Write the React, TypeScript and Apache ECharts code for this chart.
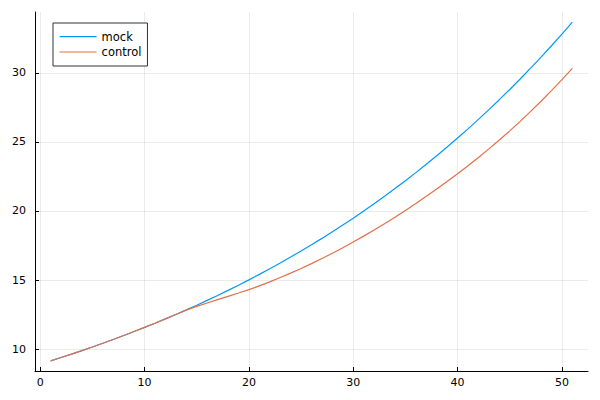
import React, { useEffect, useRef } from "react";
import * as echarts from "echarts";

const xValues = [1, 2, 3, 4, 5, 6, 7, 8, 9, 10, 11, 12, 13, 14, 15, 16, 17, 18, 19, 20, 21, 22, 23, 24, 25, 26, 27, 28, 29, 30, 31, 32, 33, 34, 35, 36, 37, 38, 39, 40, 41, 42, 43, 44, 45, 46, 47, 48, 49, 50, 51];

const mockValues = [9.150, 9.392, 9.640, 9.894, 10.155, 10.423, 10.699, 10.981, 11.271, 11.569, 11.874, 12.188, 12.509, 12.840, 13.179, 13.527, 13.884, 14.250, 14.627, 15.013, 15.409, 15.816, 16.234, 16.662, 17.102, 17.554, 18.017, 18.493, 18.981, 19.482, 19.997, 20.525, 21.066, 21.623, 22.194, 22.779, 23.381, 23.998, 24.632, 25.282, 25.950, 26.635, 27.338, 28.060, 28.801, 29.561, 30.342, 31.143, 31.965, 32.809, 33.675];

const controlValues = [9.150, 9.392, 9.640, 9.894, 10.155, 10.423, 10.699, 10.981, 11.271, 11.569, 11.874, 12.188, 12.509, 12.82, 13.09, 13.34, 13.58, 13.82, 14.06, 14.31, 14.58, 14.87, 15.18, 15.50, 15.84, 16.19, 16.56, 16.94, 17.34, 17.75, 18.18, 18.62, 19.08, 19.55, 20.04, 20.54, 21.06, 21.59, 22.14, 22.70, 23.28, 23.88, 24.50, 25.14, 25.80, 26.49, 27.21, 27.95, 28.72, 29.51, 30.33];

const xTicks = [0, 10, 20, 30, 40, 50];
const yTicks = [10, 15, 20, 25, 30];
const seriesNames = ["mock", "control"];
const seriesColors = ["#009AFA", "#E36F47"];

const FONT = "DejaVu Sans";

export default function App() {
  const ref = useRef<HTMLDivElement>(null);
  useEffect(() => {
    if (!ref.current) return;
    const chart = echarts.init(ref.current, null, { renderer: "svg" });
    const gridColor = "rgba(0,0,0,0.08)";
    chart.setOption({
      animation: false,
      backgroundColor: "#ffffff",
      grid: { left: 35, right: 12, top: 12, bottom: 29, outerBoundsMode: "none", containLabel: false },
      legend: {
        left: 53,
        top: 23,
        orient: "vertical",
        itemWidth: 37,
        itemHeight: 10,
        itemGap: 3.3,
        padding: [7.7, 6, 8, 6],
        borderColor: "#333",
        borderWidth: 1,
        borderRadius: 0,
        backgroundColor: "#ffffff",
        itemStyle: { opacity: 0, borderWidth: 0 },
        lineStyle: { width: 1.2 },
        textStyle: { fontFamily: FONT, fontSize: 11.5, color: "#000" },
        data: seriesNames,
      },
      xAxis: {
        type: "value",
        min: -0.5,
        max: 52.5,
        axisLine: { show: true, onZero: false, lineStyle: { color: "#000", width: 1 } },
        axisTick: { show: true, inside: true, length: 4, customValues: xTicks, lineStyle: { color: "#000" } },
        axisLabel: { customValues: xTicks, margin: 6, fontFamily: FONT, fontSize: 11, color: "#000" },
        splitLine: { show: true, lineStyle: { color: gridColor, width: 1 } },
      },
      yAxis: {
        type: "value",
        min: 8.414,
        max: 34.41,
        axisLine: { show: true, onZero: false, lineStyle: { color: "#000", width: 1 } },
        axisTick: { show: true, inside: true, length: 4, customValues: yTicks, lineStyle: { color: "#000" } },
        axisLabel: { customValues: yTicks, margin: 9, fontFamily: FONT, fontSize: 11, color: "#000" },
        splitLine: { show: true, lineStyle: { color: gridColor, width: 1 } },
      },
      series: [
        {
          name: seriesNames[0],
          type: "line",
          symbol: "none",
          data: xValues.map((x, i) => [x, mockValues[i]]),
          lineStyle: { color: seriesColors[0], width: 1.2 },
          itemStyle: { color: seriesColors[0] },
        },
        {
          name: seriesNames[1],
          type: "line",
          symbol: "none",
          data: xValues.map((x, i) => [x, controlValues[i]]),
          lineStyle: { color: seriesColors[1], width: 1.2 },
          itemStyle: { color: seriesColors[1] },
        },
      ],
    });
    return () => chart.dispose();
  }, []);
  return <div ref={ref} style={{ position: "fixed", left: 0, top: 0, width: 600, height: 400 }} />;
}
